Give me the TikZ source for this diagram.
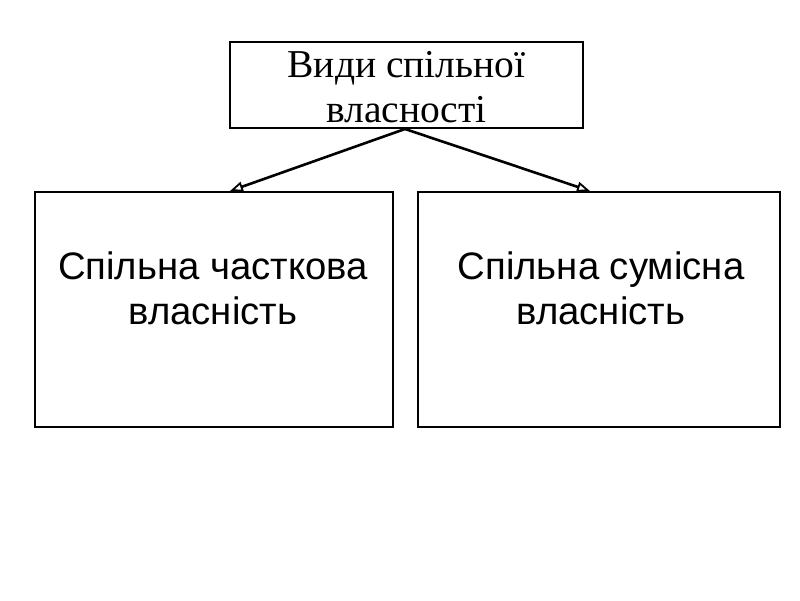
\documentclass[tikz,border=0pt]{standalone}
\usepackage{fontspec}
\setmainfont{Liberation Serif}
\newfontfamily\boxsans{Liberation Sans}
\usetikzlibrary{arrows.meta}
\begin{document}
\begin{tikzpicture}[x=1pt,y=-1pt,
  topbox/.style={draw, line width=2.6pt, minimum width=353pt, minimum height=86pt, inner sep=0pt},
  toptext/.style={align=center, font=\fontsize{39.5}{45}\selectfont, inner sep=0pt},
  boxtext/.style={font=\boxsans\fontsize{38.3}{45}\selectfont, align=center, inner sep=0pt},
  conn/.style={line width=2.6pt, -{Triangle[open, length=13pt, width=10pt, line width=1.8pt]}}]
\useasboundingbox (0,0) rectangle (800,600);
\node[topbox] (top) at (406.5,85) {};
\node[toptext] (toplabel) at (406.5,87.5) {Види спільної\\власності};
\draw[line width=2.6pt] (35,192) rectangle (393,427);
\draw[line width=2.6pt] (418,192) rectangle (780,427);
\coordinate (lt) at (230,191);
\coordinate (rt) at (590,191);
\node[boxtext] (left) at (213,288.5) {Спільна часткова\\власність};
\node[boxtext] (right) at (601,288.5) {Спільна сумісна\\власність};
\coordinate (src) at (405,129);
\draw[conn] (src) -- (lt);
\draw[conn] (src) -- (rt);
\end{tikzpicture}
\end{document}
